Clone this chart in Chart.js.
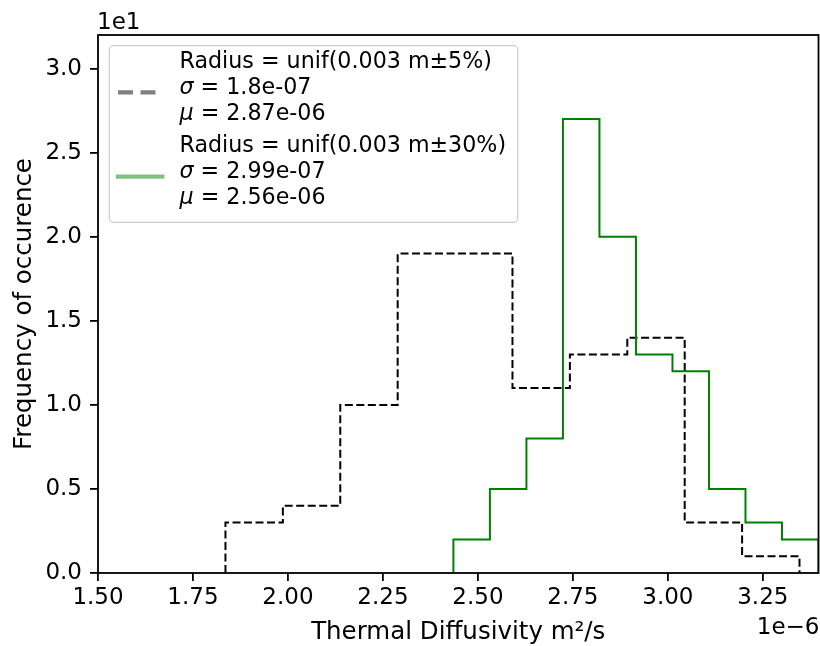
<!DOCTYPE html>
<html>
<head>
<meta charset="utf-8">
<script src="https://cdn.jsdelivr.net/npm/chart.js@4.4.1/dist/chart.umd.min.js"></script>
<style>
  html, body { margin: 0; padding: 0; background: #ffffff; }
  #wrap { width: 820px; height: 646px; position: relative; }
</style>
</head>
<body>
<div id="wrap"><canvas id="c" width="820" height="646"></canvas></div>
<script>
// ---- data (x in units of 1e-6 m^2/s, counts are raw counts; axis shows counts/10 with "1e1") ----
const edgesNarrow = [1.8355, 1.9866, 2.1377, 2.2888, 2.4399, 2.5910, 2.7421, 2.8932, 3.0443, 3.1954, 3.3465];
const countsNarrow = [3, 4, 10, 19, 19, 11, 13, 14, 3, 1];
const edgesWide = [2.4355, 2.5316, 2.6277, 2.7238, 2.8199, 2.9160, 3.0121, 3.1082, 3.2043, 3.3004, 3.3965];
const countsWide = [2, 5, 8, 27, 20, 13, 12, 5, 3, 2];

const legendNarrow = ["Radius = unif(0.003 m\u00b15%)", "1.8e-07", "2.87e-06"];
const legendWide = ["Radius = unif(0.003 m\u00b130%)", "2.99e-07", "2.56e-06"];

const xMin = 1.5, xMax = 3.3965, xStep = 0.25;
const yMin = 0, yMax = 32, yStep = 5;
const xTitle = "Thermal Diffusivity m\u00b2/s";
const yTitle = "Frequency of occurence";
const xOffsetText = "1e\u22126";
const yOffsetText = "1e1";

function stepOutline(edges, counts) {
  const pts = [{x: edges[0], y: 0}];
  for (let i = 0; i < counts.length; i++) {
    pts.push({x: edges[i], y: counts[i]});
    pts.push({x: edges[i + 1], y: counts[i]});
  }
  pts.push({x: edges[edges.length - 1], y: 0});
  return pts;
}

const FONT = "'DejaVu Sans', 'Liberation Sans', sans-serif";

const framePlugin = {
  id: 'frame',
  afterDraw(chart) {
    const ctx = chart.ctx;
    const a = chart.chartArea;
    ctx.save();
    // spines
    ctx.strokeStyle = '#000';
    ctx.lineWidth = 1.8;
    ctx.strokeRect(a.left, a.top, a.right - a.left, a.bottom - a.top);

    // offset texts
    ctx.fillStyle = '#000';
    ctx.font = "23px " + FONT;
    ctx.textBaseline = 'alphabetic';
    ctx.textAlign = 'left';
    ctx.fillText(yOffsetText, 97, 29.3);
    ctx.textAlign = 'right';
    ctx.fillText(xOffsetText, 819.5, 634);

    // legend box
    const bx = 109.3, by = 45.7, bw = 408.4, bh = 176.6, r = 4;
    ctx.beginPath();
    ctx.moveTo(bx + r, by);
    ctx.lineTo(bx + bw - r, by);
    ctx.arcTo(bx + bw, by, bx + bw, by + r, r);
    ctx.lineTo(bx + bw, by + bh - r);
    ctx.arcTo(bx + bw, by + bh, bx + bw - r, by + bh, r);
    ctx.lineTo(bx + r, by + bh);
    ctx.arcTo(bx, by + bh, bx, by + bh - r, r);
    ctx.lineTo(bx, by + r);
    ctx.arcTo(bx, by, bx + r, by, r);
    ctx.closePath();
    ctx.fillStyle = 'rgba(255,255,255,0.8)';
    ctx.fill();
    ctx.strokeStyle = '#cccccc';
    ctx.lineWidth = 1.2;
    ctx.stroke();

    // legend handles
    ctx.lineWidth = 4.2;
    ctx.strokeStyle = '#808080';
    ctx.lineCap = 'butt';
    ctx.setLineDash([15, 7.5]);
    ctx.beginPath();
    ctx.moveTo(118, 92.3);
    ctx.lineTo(162.3, 92.3);
    ctx.stroke();
    ctx.setLineDash([]);
    ctx.strokeStyle = '#80c080';
    ctx.lineCap = 'square';
    ctx.beginPath();
    ctx.moveTo(118, 176.7);
    ctx.lineTo(162.3, 176.7);
    ctx.stroke();

    // legend texts
    const tx = 179.5;
    const fs = 22.2;
    function entry(lines, b0) {
      const pitch = 25.7;
      ctx.fillStyle = '#000';
      ctx.textAlign = 'left';
      ctx.textBaseline = 'alphabetic';
      ctx.font = fs + "px " + FONT;
      ctx.fillText(lines[0], tx, b0);
      const syms = ["\u03c3", "\u03bc"];
      for (let k = 0; k < 2; k++) {
        const y = b0 + pitch * (k + 1);
        ctx.font = "italic " + fs + "px " + FONT;
        ctx.fillText(syms[k], tx, y);
        const w = ctx.measureText(syms[k]).width;
        ctx.font = fs + "px " + FONT;
        ctx.fillText(" = " + lines[k + 1], tx + w, y);
      }
    }
    entry(legendNarrow, 68.3);
    entry(legendWide, 152.3);
    ctx.restore();
  }
};

new Chart(document.getElementById('c'), {
  type: 'scatter',
  data: {
    datasets: [
      {
        label: 'narrow',
        data: stepOutline(edgesNarrow, countsNarrow),
        showLine: true,
        borderColor: '#000000',
        borderWidth: 2,
        borderDash: [8, 3.5],
        pointRadius: 0,
        fill: false,
        order: 1
      },
      {
        label: 'wide',
        data: stepOutline(edgesWide, countsWide),
        showLine: true,
        borderColor: '#008000',
        borderWidth: 2,
        pointRadius: 0,
        fill: false,
        order: 0
      }
    ]
  },
  options: {
    responsive: false,
    animation: false,
    devicePixelRatio: 1,
    layout: { padding: { top: 35, right: 1.5, left: 0, bottom: 0 } },
    plugins: { legend: { display: false }, tooltip: { enabled: false } },
    scales: {
      x: {
        type: 'linear',
        min: xMin, max: xMax,
        afterFit(scale) { scale.height = 73; },
        border: { display: false },
        grid: { display: true, drawOnChartArea: false, drawTicks: true, tickLength: 8, color: '#000', lineWidth: 1.8 },
        ticks: {
          stepSize: xStep, includeBounds: false, padding: 3.5, color: '#000',
          font: { family: FONT, size: 23 },
          maxRotation: 0, autoSkip: false,
          callback: (v) => Number(v).toFixed(2)
        },
        title: { display: true, text: xTitle, color: '#000', font: { family: FONT, size: 24.5, lineHeight: 1.0 }, padding: { top: 0, bottom: 1.3 } }
      },
      y: {
        type: 'linear',
        min: yMin, max: yMax,
        afterFit(scale) { scale.width = 98; },
        border: { display: false },
        grid: { display: true, drawOnChartArea: false, drawTicks: true, tickLength: 8, color: '#000', lineWidth: 1.8 },
        ticks: {
          stepSize: yStep, includeBounds: false, padding: 8, color: '#000',
          font: { family: FONT, size: 23 },
          autoSkip: false,
          callback: (v) => (v / 10).toFixed(1)
        },
        title: { display: true, text: yTitle, color: '#000', font: { family: FONT, size: 24.5, lineHeight: 1.2 }, padding: { top: 9.5, bottom: 0 } }
      }
    }
  },
  plugins: [framePlugin]
});
</script>
</body>
</html>
